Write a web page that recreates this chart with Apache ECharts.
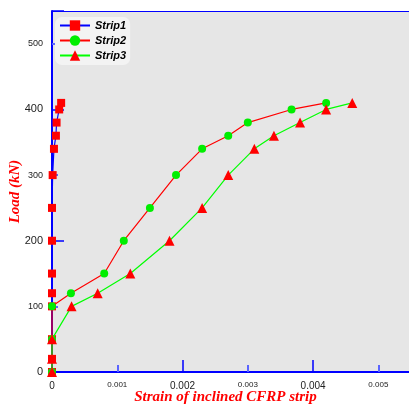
<!DOCTYPE html>
<html>
<head>
<meta charset="utf-8">
<script src="https://cdn.jsdelivr.net/npm/echarts@6/dist/echarts.min.js"></script>
<style>
  html, body { margin: 0; padding: 0; background: #fff; }
  #chart { width: 409px; height: 406px; }
</style>
</head>
<body>
<div id="chart"></div>
<script>
// Load (kN) versus strain readings for three inclined CFRP strips
const loadLevels1 = [0, 20, 50, 100, 120, 150, 200, 250, 300, 340, 360, 380, 400, 410];
const strip1Strain = [0, 0, 0, 0, 0, 0, 0, 0, 0.00001, 0.00003, 0.00006, 0.00007, 0.00011, 0.00014];

const loadLevels2 = [0, 50, 100, 120, 150, 200, 250, 300, 340, 360, 380, 400, 410];
const strip2Strain = [0, 0, 0, 0.00029, 0.0008, 0.0011, 0.0015, 0.0019, 0.0023, 0.0027, 0.003, 0.00367, 0.0042];

const loadLevels3 = [0, 20, 50, 100, 120, 150, 200, 250, 300, 340, 360, 380, 400, 410];
const strip3Strain = [0, 0, 0, 0.0003, 0.0007, 0.0012, 0.0018, 0.0023, 0.0027, 0.0031, 0.0034, 0.0038, 0.0042, 0.0046];

const seriesNames = ['Strip1', 'Strip2', 'Strip3'];
const xTickValues = [0, 0.001, 0.002, 0.003, 0.004, 0.005];
const yTickValues = [0, 100, 200, 300, 400, 500];

const pairs = (xs, ys) => xs.map((x, i) => [x, ys[i]]);

const chart = echarts.init(document.getElementById('chart'), null, { renderer: 'canvas' });

const xMin = 0, xMax = 0.0055, yMin = 0, yMax = 550;

chart.setOption({
  animation: false,
  backgroundColor: '#ffffff',
  grid: {
    left: 52, top: 11, right: -2, bottom: 34,
    containLabel: false, outerBoundsMode: 'none',
    show: true, backgroundColor: '#e6e6e6', borderWidth: 0
  },
  legend: {
    left: 55, top: 17,
    orient: 'vertical',
    itemGap: 4,
    itemWidth: 30, itemHeight: 13,
    padding: [3, 4, 4, 4],
    backgroundColor: '#f3f3f3',
    borderRadius: 7,
    data: seriesNames,
    textStyle: {
      fontFamily: 'Liberation Sans, Arial, sans-serif',
      fontStyle: 'italic', fontWeight: 'bold', fontSize: 11, color: '#000'
    }
  },
  xAxis: [
    {
      // labelled axis: one label per 0.001
      type: 'value', min: xMin, max: xMax, interval: 0.001,
      position: 'bottom',
      name: 'Strain of inclined CFRP strip',
      nameLocation: 'middle', nameGap: 18, nameMoveOverlap: false,
      nameTextStyle: {
        fontFamily: 'Liberation Serif, Times New Roman, serif',
        fontStyle: 'italic', fontWeight: 'bold', fontSize: 15, color: '#ff0000',
        padding: [0, 12, 0, 0]
      },
      axisLine: { show: true, lineStyle: { color: '#0000ff', width: 2 } },
      axisTick: { show: false },
      splitLine: { show: false },
      axisLabel: {
        margin: 9,
        customValues: xTickValues,
        formatter: v => {
          const k = Math.round(v * 1000);
          if (k === 0) return '{b|0}';
          return (k % 2 === 0 ? '{b|' : '{s|') + v.toFixed(3) + '}';
        },
        rich: {
          b: { fontFamily: 'Liberation Sans, Arial, sans-serif', fontSize: 10, color: '#222' },
          s: { fontFamily: 'Liberation Sans, Arial, sans-serif', fontSize: 8, color: '#222' }
        }
      }
    },
    {
      // tick-only axis: long ticks every 0.002, short ticks between
      type: 'value', min: xMin, max: xMax, interval: 0.002,
      position: 'bottom',
      axisLine: { show: false },
      axisLabel: { show: false },
      splitLine: { show: false },
      axisTick: { show: true, inside: true, length: 12, lineStyle: { color: '#0000ff', width: 1.5 } },
      minorTick: { show: true, splitNumber: 2, length: 7, lineStyle: { color: '#5a64ff', width: 2 } }
    },
    {
      // thin frame line along the top of the plot
      type: 'value', min: xMin, max: xMax,
      position: 'top',
      axisLine: { show: true, lineStyle: { color: '#0000ff', width: 1 } },
      axisLabel: { show: false },
      axisTick: { show: false },
      splitLine: { show: false }
    }
  ],
  yAxis: [
    {
      type: 'value', min: yMin, max: yMax, interval: 100,
      name: 'Load (kN)',
      nameLocation: 'middle', nameGap: 29, nameRotate: 90, nameMoveOverlap: false,
      nameTextStyle: {
        fontFamily: 'Liberation Serif, Times New Roman, serif',
        fontStyle: 'italic', fontWeight: 'bold', fontSize: 15, color: '#ff0000'
      },
      axisLine: { show: true, lineStyle: { color: '#0000ff', width: 2 } },
      axisTick: { show: false },
      splitLine: { show: false },
      axisLabel: {
        margin: 9,
        customValues: yTickValues,
        formatter: v => (v % 200 === 0 ? '{b|' : '{s|') + v + '}',
        rich: {
          b: { fontFamily: 'Liberation Sans, Arial, sans-serif', fontSize: 11, color: '#222' },
          s: { fontFamily: 'Liberation Sans, Arial, sans-serif', fontSize: 9, color: '#222' }
        }
      }
    },
    {
      type: 'value', min: yMin, max: yMax, interval: 200,
      position: 'left',
      axisLine: { show: false },
      axisLabel: { show: false },
      splitLine: { show: false },
      axisTick: { show: true, inside: true, length: 12, lineStyle: { color: '#0000ff', width: 1.5 } },
      minorTick: { show: true, splitNumber: 2, length: 6, lineStyle: { color: '#5a64ff', width: 2 } }
    }
  ],
  series: [
    {
      name: seriesNames[0], type: 'line',
      data: pairs(strip1Strain, loadLevels1),
      symbol: 'rect', symbolSize: 8,
      lineStyle: { color: '#0000ff', width: 1.2 },
      itemStyle: { color: '#ff0000', borderWidth: 0 },
      z: 2
    },
    {
      name: seriesNames[1], type: 'line',
      data: pairs(strip2Strain, loadLevels2),
      symbol: 'circle', symbolSize: 8,
      lineStyle: { color: '#ff0000', width: 1.2 },
      itemStyle: { color: '#00ee00', borderWidth: 0 },
      z: 3
    },
    {
      name: seriesNames[2], type: 'line',
      data: pairs(strip3Strain, loadLevels3),
      symbol: 'triangle', symbolSize: 10,
      lineStyle: { color: '#00ff00', width: 1.2 },
      itemStyle: { color: '#ff0000', borderWidth: 0 },
      z: 4
    }
  ]
});
</script>
</body>
</html>
